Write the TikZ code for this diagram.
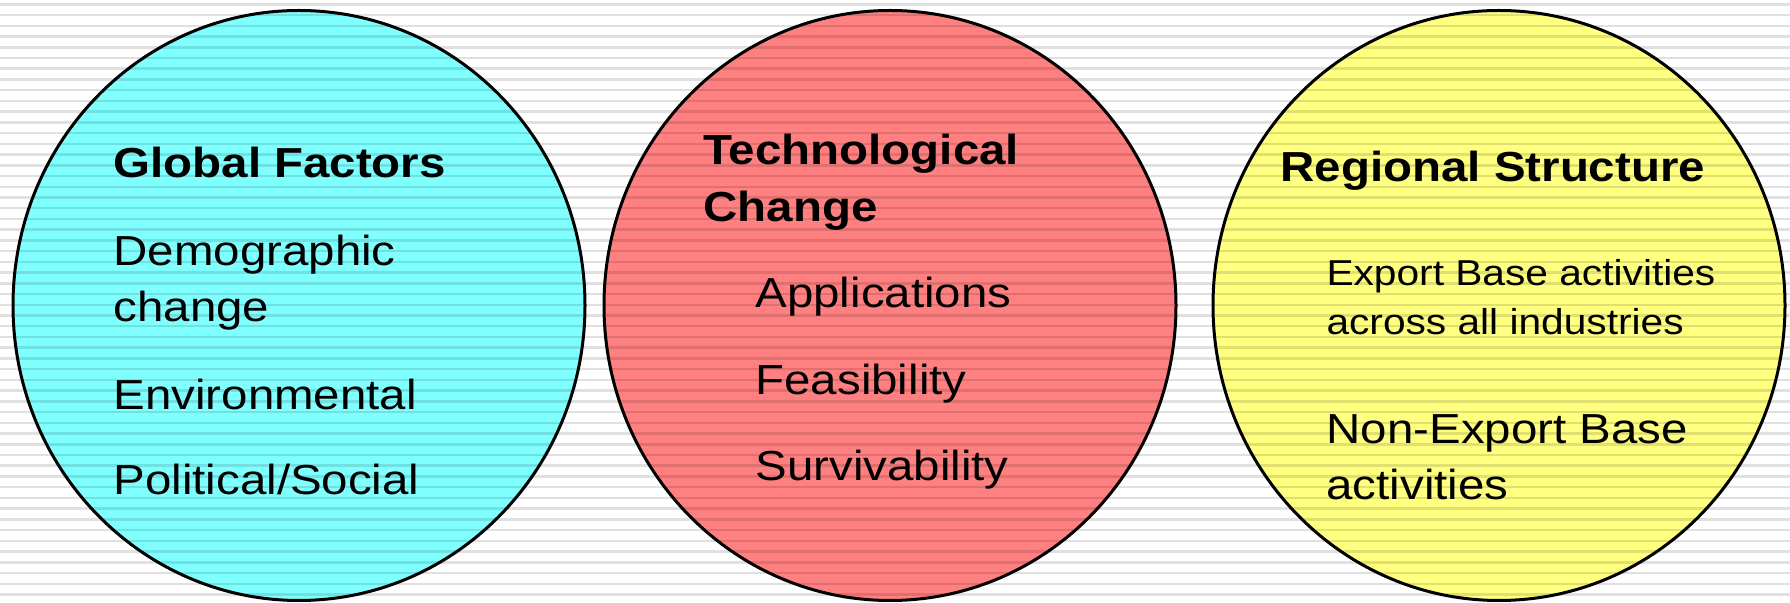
\documentclass[tikz,border=0pt]{standalone}
\usepackage{fontspec}
\setmainfont[FakeStretch=1.13]{Liberation Sans}
\usetikzlibrary{shapes.geometric}
\definecolor{cyanfill}{HTML}{80FFFF}
\definecolor{redfill}{HTML}{FF8080}
\definecolor{yellowfill}{HTML}{FFFF80}
\tikzset{
  every picture/.style={
    line width=1.5pt
  },
  circ/.style={ellipse, draw, inner sep=0pt, minimum width=286pt, minimum height=295pt},
  heading/.style={anchor=base west, inner sep=0pt, align=left, font=\fontsize{21}{28.5}\selectfont\bfseries},
  entry/.style={anchor=base west, inner sep=0pt, align=left, font=\fontsize{21}{28}\selectfont},
  smallentry/.style={anchor=base west, inner sep=0pt, align=left, font=\fontsize{18}{24.5}\selectfont},
  stripe/.style={fill=black, fill opacity=0.12}
}

\begin{document}
\begin{tikzpicture}[x=0.5pt, y=-0.5pt]
  \useasboundingbox (0,0) rectangle (1790,603);

  \node[circ, fill=cyanfill] (global) at (299,305.5) {};
  \node[circ, fill=redfill] (tech) at (890,305.5) {};
  \node[circ, fill=yellowfill] (regional) at (1499,305.5) {};

  % ruled background, also over the fills
  \foreach \k in {0,...,55}
    \fill[stripe] (0,{3.1+10.73*\k}) rectangle (1790,{5.6+10.73*\k});

  % multi-line nodes sit on the baseline of their last line
  \node[heading] (gf) at (112,178) {Global Factors};
  \node[entry] (demo) at (112,322) {Demographic\\change};
  \node[entry] (env) at (112,410) {Environmental};
  \node[entry] (pol) at (112,495) {Political/Social};

  \node[heading] (tc) at (702,222) {Technological\\Change};
  \node[entry] (app) at (754,308) {Applications};
  \node[entry] (feas) at (754,395) {Feasibility};
  \node[entry] (surv) at (754,481) {Survivability};

  \node[heading] (rs) at (1279,182) {Regional Structure};
  \node[smallentry] (exp) at (1325,335) {Export Base activities\\across all industries};
  \node[entry] (nonexp) at (1325,500) {Non-Export Base\\activities};
\end{tikzpicture}
\end{document}
